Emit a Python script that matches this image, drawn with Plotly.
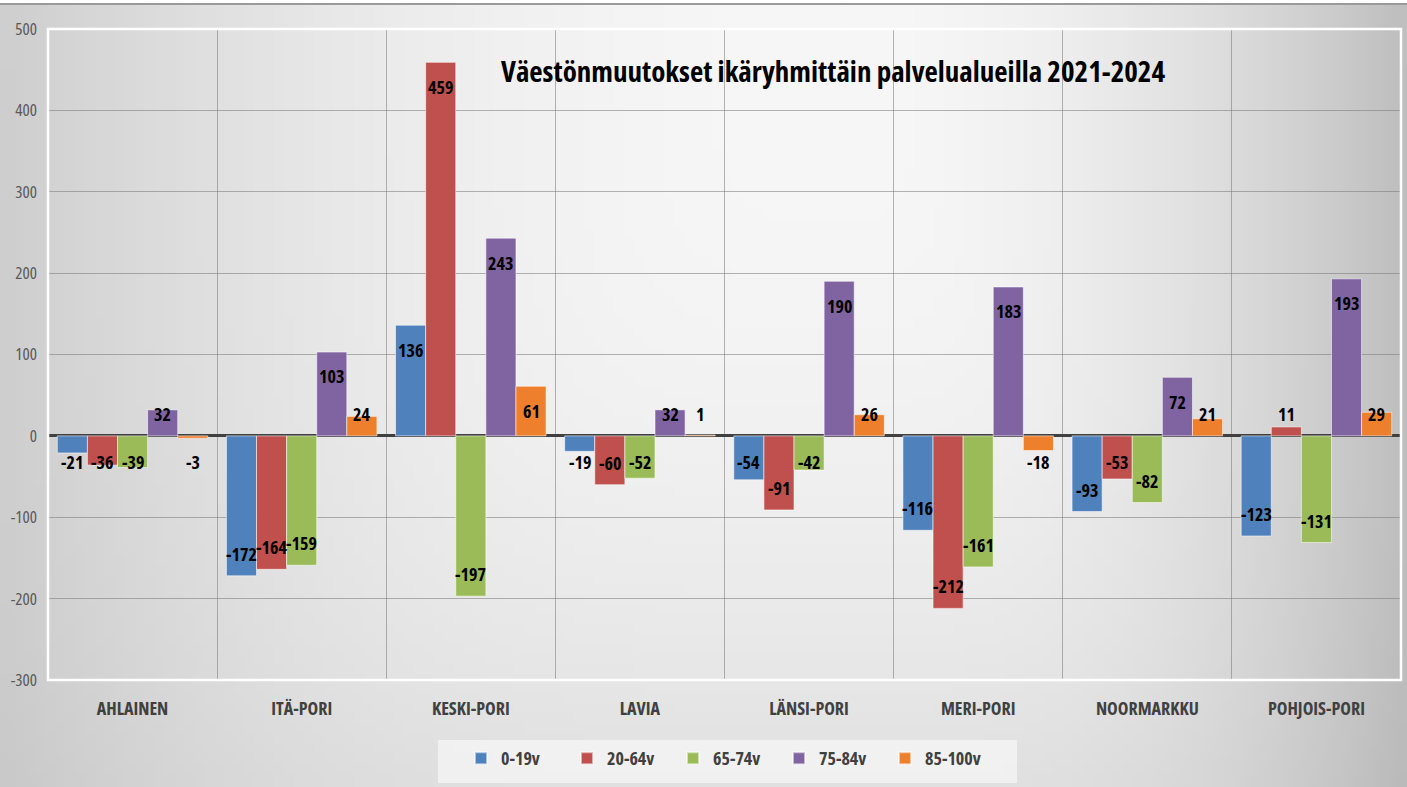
import base64, struct, zlib
import numpy as np
import plotly.graph_objects as go

# ---------------- data ----------------
categories = ["AHLAINEN", "ITÄ-PORI", "KESKI-PORI", "LAVIA", "LÄNSI-PORI",
              "MERI-PORI", "NOORMARKKU", "POHJOIS-PORI"]
series_names = ["0-19v", "20-64v", "65-74v", "75-84v", "85-100v"]
v_0_19 = [-21, -172, 136, -19, -54, -116, -93, -123]
v_20_64 = [-36, -164, 459, -60, -91, -212, -53, 11]
v_65_74 = [-39, -159, -197, -52, -42, -161, -82, -131]
v_75_84 = [32, 103, 243, 32, 190, 183, 72, 193]
v_85_100 = [-3, 24, 61, 1, 26, -18, 21, 29]
y_ticks = [-300, -200, -100, 0, 100, 200, 300, 400, 500]
title_text = "Väestönmuutokset ikäryhmittäin palvelualueilla 2021-2024"

series_values = [v_0_19, v_20_64, v_65_74, v_75_84, v_85_100]
colors = ["#4F81BD", "#C0504D", "#9BBB59", "#8064A2", "#EE7F2D"]

FONT = "Open Sans, Roboto, sans-serif"


def cond(s):
    # condensed face of the variable font (Calibri-like narrow look)
    return f"<span style='font-stretch:condensed'>{s}</span>"


W, H = 1407, 787
ML, MR, MT, MB = 48, 6, 29, 107
PW = W - ML - MR
PH = H - MT - MB


def px_x(p):
    return (p - ML) / PW


def px_y(p):
    return (MT + PH - p) / PH


# ---------------- background gradient (PNG) ----------------
def make_png(arr):
    h, w = arr.shape
    raw = b"".join(b"\x00" + arr[r].tobytes() for r in range(h))

    def chunk(tag, data):
        c = struct.pack(">I", len(data)) + tag + data
        return c + struct.pack(">I", zlib.crc32(tag + data) & 0xFFFFFFFF)

    png = b"\x89PNG\r\n\x1a\n"
    png += chunk(b"IHDR", struct.pack(">IIBBBBB", w, h, 8, 0, 0, 0, 0))
    png += chunk(b"IDAT", zlib.compress(raw, 9))
    png += chunk(b"IEND", b"")
    return "data:image/png;base64," + base64.b64encode(png).decode()


gw, gh = 141, 79
xs = np.linspace(0, 1, gw)[None, :]
ys = np.linspace(0, 1, gh)[:, None]
cx, cy = 0.6, 0.08
dx = np.where(xs < cx, (cx - xs) / cx, (xs - cx) / (1 - cx))
dy = np.clip((ys - cy) / (1 - cy), 0, None)
drop_x = np.where(xs < cx, 40.0, 56.0) * dx ** 2
drop_y = 22.0 * dy ** 2
grad = 247 - np.sqrt(drop_x ** 2 + drop_y ** 2)
grad = np.clip(grad, 0, 255).astype(np.uint8)
bg_src = make_png(grad)

# ---------------- figure ----------------
fig = go.Figure()
for name, vals, col in zip(series_names, series_values, colors):
    fig.add_trace(go.Bar(
        name=cond(name), x=categories, y=vals,
        marker=dict(color=col, line=dict(color="rgba(255,255,255,0.55)", width=1)),
        hovertemplate=name + ": %{x} %{y}<extra></extra>",
    ))

# data labels
bargap = 0.11
n = len(series_names)
bw = (1 - bargap) / n
for j, vals in enumerate(series_values):
    off = -(1 - bargap) / 2 + bw * (j + 0.5)
    for i, v in enumerate(vals):
        ly = max(v - 30, 27) if v > 0 else min(v + 27, -32)
        fig.add_annotation(
            x=i + off, y=ly, xref="x", yref="y", text=cond(str(v)), showarrow=False,
            font=dict(family=FONT, size=18, color="#000000", weight="bold"),
            xanchor="center", yanchor="middle",
        )

# title
fig.add_annotation(
    x=px_x(833), y=px_y(70), xref="paper", yref="paper",
    text=cond(title_text), showarrow=False,
    font=dict(family=FONT, size=29, color="#000000", weight="bold"),
    xanchor="center", yanchor="middle",
)

# background image spanning the whole canvas below a thin top line
top_px = 4
fig.add_layout_image(dict(
    source=bg_src, xref="paper", yref="paper",
    x=px_x(0), y=px_y(top_px),
    sizex=W / PW, sizey=(H - top_px) / PH,
    sizing="stretch", layer="below", xanchor="left", yanchor="top",
))

# top border line of the chart box
fig.add_shape(type="line", xref="paper", yref="paper",
              x0=px_x(0), x1=px_x(W), y0=px_y(top_px), y1=px_y(top_px),
              line=dict(color="#9a9a9a", width=2), layer="below")

# legend box
fig.add_shape(type="rect", xref="paper", yref="paper",
              x0=px_x(438), x1=px_x(1017), y0=px_y(783), y1=px_y(740),
              fillcolor="rgba(246,246,246,0.75)", line=dict(width=0), layer="below")

# white plot area outline
fig.add_shape(type="rect", xref="paper", yref="paper", x0=0, x1=1, y0=0, y1=1,
              line=dict(color="#ffffff", width=2.5), layer="above")

fig.update_layout(
    width=W, height=H,
    margin=dict(l=ML, r=MR, t=MT, b=MB, autoexpand=False),
    paper_bgcolor="#ffffff",
    plot_bgcolor="rgba(0,0,0,0)",
    barmode="group", bargap=bargap, bargroupgap=0,
    showlegend=True,
    legend=dict(
        orientation="h", xref="container", yref="container",
        x=726 / W, xanchor="center", y=1 - 740 / H, yanchor="top",
        bgcolor="rgba(0,0,0,0)", borderwidth=0,
        font=dict(family=FONT, size=18, color="#404040", weight="bold"),
        entrywidth=61, entrywidthmode="pixels",
        itemsizing="constant",
    ),
    xaxis=dict(
        type="category", tickson="boundaries", showgrid=True,
        gridcolor="rgba(120,120,120,0.55)", gridwidth=1,
        ticks="", showline=False, zeroline=False, automargin=False,
        tickvals=categories, ticktext=[cond(c) for c in categories],
        tickfont=dict(family=FONT, size=18, color="#404040", weight="bold"),
        ticklabelstandoff=16,
    ),
    yaxis=dict(
        range=[-300, 500], tickvals=y_ticks,
        ticktext=[cond(str(t)) for t in y_ticks],
        showgrid=True, gridcolor="rgba(120,120,120,0.55)", gridwidth=1,
        zeroline=True, zerolinecolor="#404040", zerolinewidth=3,
        showline=False, ticks="", automargin=False,
        tickfont=dict(family=FONT, size=17, color="#595959"),
        ticklabelstandoff=10,
    ),
    font=dict(family=FONT),
)

fig.write_html(
    "out.html",
    config={"displayModeBar": False},
    post_script="document.body.style.margin='0';document.body.style.overflow='hidden';",
)
